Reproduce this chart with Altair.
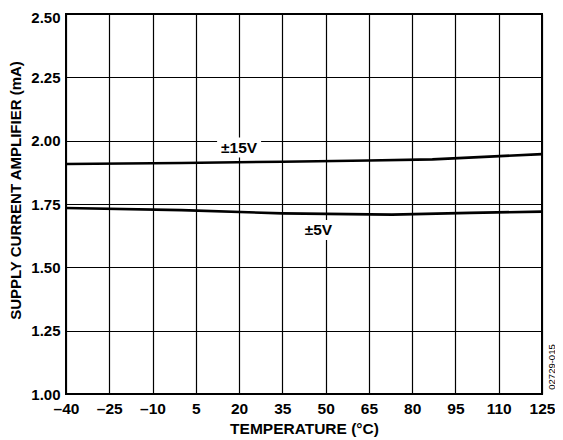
import altair as alt
import pandas as pd

FONT = "Liberation Sans"

# ±15V curve
temp_15 = [-40, 0, 35, 65, 87, 125]
curr_15 = [1.908, 1.912, 1.917, 1.922, 1.926, 1.947]
# ±5V curve
temp_5 = [-40, 0, 35, 73, 100, 125]
curr_5 = [1.734, 1.726, 1.713, 1.708, 1.715, 1.720]

x_ticks = [-40, -25, -10, 5, 20, 35, 50, 65, 80, 95, 110, 125]
y_ticks = [1.00, 1.25, 1.50, 1.75, 2.00, 2.25, 2.50]

label_text = ["±15V", "±5V"]
label_temp = [20.0, 47.5]
label_curr = [1.973, 1.647]

code_text = ["02729-015"]

rows = []
for t, c in zip(temp_15, curr_15):
    rows.append({"series": "±15V", "temp": t, "curr": c})
for t, c in zip(temp_5, curr_5):
    rows.append({"series": "±5V", "temp": t, "curr": c})
df = pd.DataFrame(rows)

labels = pd.DataFrame({"text": label_text, "temp": label_temp, "curr": label_curr})
code_df = pd.DataFrame({"text": code_text})

x_scale = alt.Scale(domain=[-40, 125], nice=False, zero=False)
y_scale = alt.Scale(domain=[1.0, 2.5], nice=False, zero=False)

x_axis = alt.Axis(
    values=x_ticks,
    title="TEMPERATURE (°C)",
    grid=True, gridColor="black", gridWidth=1.2, gridOpacity=1,
    ticks=False, tickSize=0, domain=False,
    labelFont=FONT, labelFontSize=15.5, labelFontWeight="bold", labelColor="black",
    labelPadding=7, labelFlush=False,
    labelExpr="datum.value < 0 ? '\u2013' + abs(datum.value) : '' + datum.value",
    titleFont=FONT, titleFontSize=15.5, titleFontWeight="bold", titleColor="black",
    titleBaseline="alphabetic", titleY=39.5,
)
y_axis = alt.Axis(
    values=y_ticks, format=".2f",
    title="SUPPLY CURRENT AMPLIFIER (mA)",
    grid=True, gridColor="black", gridWidth=1.2, gridOpacity=1,
    ticks=False, tickSize=0, domain=False,
    labelFont=FONT, labelFontSize=15, labelFontWeight="bold", labelColor="black",
    labelPadding=6,
    labelOffset={"condition": {"test": "datum.value >= 2.5", "value": 3}, "value": 0},
    titleFont=FONT, titleFontSize=15, titleFontWeight="bold", titleColor="black",
    titleAngle=270, titleAlign="center", titleBaseline="middle",
    titleX=-50.5, titleY=176,
)

lines = alt.Chart(df).mark_line(color="black", strokeWidth=2.6).encode(
    x=alt.X("temp:Q", scale=x_scale, axis=x_axis),
    y=alt.Y("curr:Q", scale=y_scale, axis=y_axis),
    detail="series:N",
)

boxes = alt.Chart(labels).mark_rect(
    color="white", xOffset=-22, x2Offset=22, yOffset=-10, y2Offset=10
).encode(
    x=alt.X("temp:Q", scale=x_scale),
    x2="temp:Q",
    y=alt.Y("curr:Q", scale=y_scale),
    y2="curr:Q",
)

texts = alt.Chart(labels).mark_text(
    font=FONT, fontSize=15.5, fontWeight="bold", color="black",
    align="center", baseline="middle",
).encode(
    x=alt.X("temp:Q", scale=x_scale),
    y=alt.Y("curr:Q", scale=y_scale),
    text="text:N",
)

code = alt.Chart(code_df).mark_text(
    font=FONT, fontSize=9.5, color="black", angle=270,
    align="center", baseline="middle",
).encode(
    x=alt.value(485.5), y=alt.value(353), text="text:N",
)

chart = alt.layer(boxes, lines, texts, code).properties(
    width=476, height=380,
    autosize=alt.AutoSizeParams(type="none"),
    padding={"left": 58, "top": 6, "right": 13, "bottom": 44},
    background="white",
).configure_view(stroke="black", strokeWidth=2)

chart.save("out.html", embed_options={"renderer": "svg", "actions": False})
